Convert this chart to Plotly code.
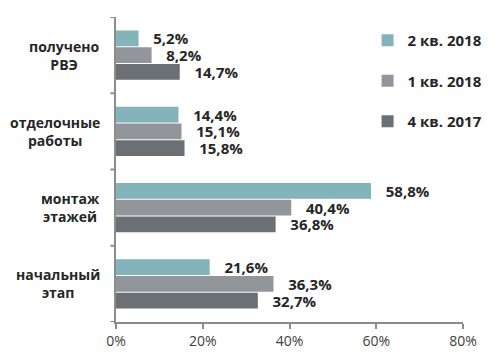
import plotly.graph_objects as go

categories = ["получено<br>РВЭ", "отделочные<br>работы", "монтаж<br>этажей", "начальный<br>этап"]
series_names = ["2 кв. 2018", "1 кв. 2018", "4 кв. 2017"]
q2_2018 = [5.2, 14.4, 58.8, 21.6]
q1_2018 = [8.2, 15.1, 40.4, 36.3]
q4_2017 = [14.7, 15.8, 36.8, 32.7]
x_ticks = [0, 20, 40, 60, 80]
x_tick_labels = ["0%", "20%", "40%", "60%", "80%"]

colors = ["#82b4b9", "#92969a", "#6b7075"]
series = [q2_2018, q1_2018, q4_2017]

fig = go.Figure()
for i, (name, vals) in enumerate(zip(series_names, series)):
    fig.add_trace(go.Bar(
        y=list(range(len(categories))), x=vals, name=name, orientation="h",
        marker=dict(color=colors[i], line=dict(width=0)),
        text=["\u00a0\u00a0\u00a0" + f"{v:.1f}".replace(".", ",") + "%" for v in vals],
        textposition="outside", cliponaxis=False, constraintext="none",
        textfont=dict(family="Open Sans", size=15, color="#262626", weight="bold"),
        legendgroup=name,
    ))

for j, c in enumerate(categories):
    fig.add_annotation(
        x=0, xref="paper", y=j, yref="y", text=c, showarrow=False,
        xanchor="right", yanchor="middle", align="center", xshift=-14,
        font=dict(family="Open Sans", size=14, color="#262626", weight="bold"),
    )

fig.update_layout(
    width=500, height=361,
    margin=dict(l=116, r=37, t=17, b=39, autoexpand=False),
    paper_bgcolor="white", plot_bgcolor="white",
    barmode="group", bargap=0.34, bargroupgap=0.06,
    showlegend=True,
    legend=dict(x=0.725, y=0.977, xanchor="left", yanchor="top",
                font=dict(family="Open Sans", size=15, color="#262626", weight="bold"),
                tracegroupgap=18, bgcolor="rgba(0,0,0,0)", itemwidth=30),
    xaxis=dict(range=[0, 80], tickvals=x_ticks, ticktext=x_tick_labels, automargin=False,
               showgrid=False, zeroline=False, showline=True, linecolor="#8c8c8c", linewidth=2,
               ticks="outside", ticklen=5, tickcolor="#8c8c8c", tickwidth=2,
               tickfont=dict(family="Open Sans", size=14, color="#404040")),
    yaxis=dict(tickvals=list(range(len(categories))), range=[3.5, -0.5], automargin=False,
               showticklabels=False, showgrid=False, zeroline=False,
               showline=True, linecolor="#8c8c8c", linewidth=2),
)

for b in [-0.5, 0.5, 1.5, 2.5, 3.5]:
    fig.add_shape(type="line", xref="paper", x0=-0.016, x1=0, yref="y", y0=b, y1=b,
                  line=dict(color="#8c8c8c", width=2))

fig.write_html("out.html", config={"displayModeBar": False},
               post_script="document.body.style.margin='0';")
